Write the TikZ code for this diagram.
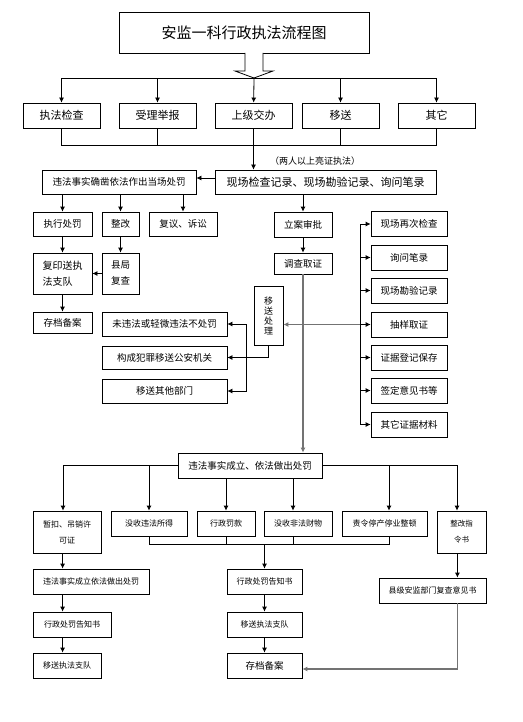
\documentclass[tikz,border=0pt]{standalone}
\usepackage{fontspec}
\setmainfont{Noto Sans CJK SC}
\usetikzlibrary{arrows.meta}
\definecolor{linegray}{RGB}{115,115,115}

\begin{document}
\begin{tikzpicture}[
        x=1pt, y=-1pt,
        box/.style={draw, line width=0.8pt, inner sep=1pt, align=center, font=\fontsize{9.5}{12}\selectfont},
        big/.style={box, font=\fontsize{11}{13}\selectfont},
        sml/.style={box, font=\fontsize{8}{16}\selectfont},
        arr/.style={-{Latex[length=5pt,width=5pt]}, line width=0.8pt},
        garr/.style={arr, draw=linegray, line width=1.2pt},
        ln/.style={line width=0.8pt}
      ]
        \useasboundingbox (0,0) rectangle (522,722);
        \node[box, minimum width=250pt, minimum height=41pt, font=\fontsize{15}{18}\selectfont] (title) at (244,32.5) {安监一科行政执法流程图};
        \draw[ln, fill=white] (245,53) -- (245,71) -- (235,71) -- (254,78) -- (273,71) -- (263,71) -- (263,53);
        \coordinate (split) at (254,78);
        \coordinate (merge) at (254,145);

        \node[big, minimum width=77pt, minimum height=25pt] (zfjc) at (61.5,115.5) {执法检查};
        \node[big, minimum width=77pt, minimum height=25pt] (slju) at (157.5,115.5) {受理举报};
        \node[big, minimum width=77pt, minimum height=25pt] (sjjb) at (253.5,115.5) {上级交办};
        \node[big, minimum width=77pt, minimum height=25pt] (ys) at (340.5,115.5) {移送};
        \node[big, minimum width=77pt, minimum height=25pt] (qt) at (436.5,115.5) {其它};
        \foreach \b in {zfjc,slju,ys,qt} {
          \draw[arr] (split) -| (\b);
          \draw[ln] (\b) |- (merge);
        }
        \draw[arr] (split) -- (sjjb);

        \node[font=\fontsize{9}{11}\selectfont] (note) at (315,161) {（两人以上亮证执法）};
        \node[box, minimum width=154pt, minimum height=24pt] (dczf) at (119,182) {违法事实确凿依法作出当场处罚};
        \node[big, minimum width=221pt, minimum height=24pt] (xcjl) at (325.5,182) {现场检查记录、现场勘验记录、询问笔录};
        \draw[arr] (sjjb) -- (sjjb.south |- xcjl.north);
        \draw[arr] ([yshift=4pt]xcjl.west) -- ([yshift=4pt]dczf.east);

        \node[box, minimum width=59pt, minimum height=24pt] (zxcf) at (62.5,224) {执行处罚};
        \node[box, minimum width=37pt, minimum height=24pt] (zg) at (120.5,224) {整改};
        \node[box, minimum width=68pt, minimum height=24pt] (fyss) at (183,224) {复议、诉讼};
        \foreach \b in {zxcf,zg,fyss}
          \draw[arr] (dczf.south -| \b) -- (\b);
        \node[box, minimum width=59pt, minimum height=41pt, align=left, font=\fontsize{10}{16}\selectfont] (fyzf) at (62.5,273.5) {复印送执\\法支队};
        \node[box, minimum width=37pt, minimum height=41pt, font=\fontsize{9.5}{16}\selectfont] (xjfc) at (120.5,273.5) {县局\\复查};
        \node[box, minimum width=59pt, minimum height=21pt] (cdba) at (62.5,322.5) {存档备案};
        \draw[arr] (zxcf) -- (fyzf);
        \draw[arr] (zg) -- (xjfc);
        \draw[arr] (xjfc) -- (fyzf);
        \draw[arr] (fyzf) -- (cdba);

        \node[box, minimum width=58pt, minimum height=25pt] (lasp) at (303,224.5) {立案审批};
        \node[box, minimum width=58pt, minimum height=21pt] (dczj) at (303,263.5) {调查取证};
        \draw[arr] (xcjl.south -| lasp) -- (lasp);
        \draw[arr] (lasp) -- (dczj);

        \node[box, minimum width=76pt, minimum height=25pt] (xczc) at (409,224) {现场再次检查};
        \node[box, minimum width=76pt, minimum height=25pt] (xwbl) at (409,257.5) {询问笔录};
        \node[box, minimum width=76pt, minimum height=25pt] (xckl) at (409,290.5) {现场勘验记录};
        \node[box, minimum width=76pt, minimum height=25pt] (cyqz) at (409,324.5) {抽样取证};
        \node[box, minimum width=76pt, minimum height=25pt] (zjdj) at (409,357.5) {证据登记保存};
        \node[box, minimum width=76pt, minimum height=25pt] (jdyj) at (409,390.5) {签定意见书等};
        \node[box, minimum width=76pt, minimum height=25pt] (qtzj) at (409,424.5) {其它证据材料};
        \coordinate (rb) at (360,324.5);
        \draw[ln] (rb |- xczc) -- (rb |- qtzj);
        \foreach \b in {xczc,xwbl,xckl,cyqz,zjdj,jdyj,qtzj}
          \draw[arr] (rb |- \b) -- (\b);

        \node[box, minimum width=29pt, minimum height=59pt, font=\fontsize{9}{10}\selectfont] (ysl) at (268.5,315.5) {移\\送\\处\\理};
        \node[box, minimum width=125pt, minimum height=24pt] (wwf) at (164.5,324) {未违法或轻微违法不处罚};
        \node[box, minimum width=125pt, minimum height=23pt] (gcfz) at (164.5,357.5) {构成犯罪移送公安机关};
        \node[box, minimum width=125pt, minimum height=24pt] (ysqt) at (164.5,391) {移送其他部门};
        \draw[garr] (rb) -- (rb -| ysl.east);
        \draw[arr] (ysl) |- (gcfz);
        \coordinate (lb) at (246,357.5);
        \draw[arr] (lb) |- (wwf);
        \draw[arr] (lb) |- (ysqt);

        \node[box, minimum width=144pt, minimum height=25pt] (wfcl) at (250,465.5) {违法事实成立、依法做出处罚};
        \draw[garr] (dczj) -- (dczj.south |- wfcl.north);

        \node[sml, minimum width=68pt, minimum height=42pt] (zkdx) at (67,532) {暂扣、吊销许\\可证};
        \node[sml, minimum width=76pt, minimum height=25pt] (msss) at (149,523.5) {没收违法所得};
        \node[sml, minimum width=58pt, minimum height=25pt] (xzfk) at (226,523.5) {行政罚款};
        \node[sml, minimum width=68pt, minimum height=25pt] (msfc) at (298,523.5) {没收非法财物};
        \node[sml, minimum width=85pt, minimum height=25pt] (zltc) at (384.5,523.5) {责令停产停业整顿};
        \node[sml, minimum width=49pt, minimum height=42pt, font=\fontsize{7.5}{16}\selectfont] (zgzl) at (461.5,532) {整改指\\令书};
        \draw[arr] (wfcl.west) -| ([xshift=-4pt]zkdx.north);
        \draw[arr] (wfcl.west -| msss) -- (msss);
        \draw[arr] (wfcl.south -| xzfk) -- (xzfk);
        \draw[arr] ([xshift=-5pt]msfc.north |- wfcl.south) -- ([xshift=-5pt]msfc.north);
        \draw[arr] ([xshift=4.5pt]zltc.north |- wfcl.east) -- ([xshift=4.5pt]zltc.north);
        \draw[arr] (wfcl.east) -| ([xshift=-4.5pt]zgzl.north);

        \node[sml, minimum width=116pt, minimum height=25pt] (wfcl2) at (91,581.5) {违法事实成立依法做出处罚};
        \node[sml, minimum width=78pt, minimum height=25pt] (gzs1) at (72,624.5) {行政处罚告知书};
        \node[sml, minimum width=68pt, minimum height=25pt] (ysz1) at (67,665.5) {移送执法支队};
        \draw[arr] ([xshift=30pt]zkdx.south west) -- ([xshift=30pt]wfcl2.north west);
        \draw[arr] ([xshift=30pt]wfcl2.south west) -- ([xshift=30pt]gzs1.north west);
        \draw[arr] ([xshift=30pt]gzs1.south west) -- ([xshift=30pt]ysz1.north west);

        \node[sml, minimum width=75pt, minimum height=25pt] (gzs2) at (264.5,581.5) {行政处罚告知书};
        \node[sml, minimum width=75pt, minimum height=25pt] (ysz2) at (264.5,624.5) {移送执法支队};
        \node[box, minimum width=75pt, minimum height=25pt] (cdba2) at (264.5,665.5) {存档备案};
        \coordinate (jn) at (264.5,544);
        \draw[ln] (msss) |- ([xshift=4.5pt]zltc.south |- jn) -- ([xshift=4.5pt]zltc.south);
        \draw[ln] (xzfk) -- (xzfk |- jn);
        \draw[ln] ([xshift=-5pt]msfc.south) -- ([xshift=-5pt]msfc.south |- jn);
        \draw[arr] (jn) -- (gzs2);
        \draw[arr] (gzs2) -- (ysz2);
        \draw[arr] (ysz2) -- (cdba2);

        \node[sml, minimum width=107pt, minimum height=25pt] (xjfc2) at (432.5,590.5) {县级安监部门复查意见书};
        \draw[arr] ([xshift=-29pt]zgzl.south east) -- ([xshift=-29pt]xjfc2.north east);
        \draw[garr] ([xshift=-29pt]xjfc2.south east) |- ([yshift=-3.5pt]cdba2.east);
      \end{tikzpicture}
\end{document}
